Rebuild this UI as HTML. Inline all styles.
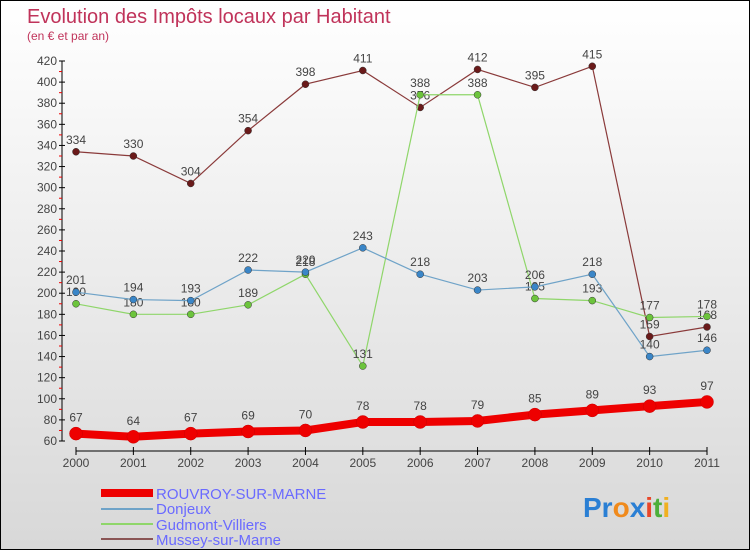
<!DOCTYPE html>
<html><head><meta charset="utf-8"><style>
body{margin:0}
#c{width:750px;height:550px;position:relative;background:linear-gradient(#fff,#d8d8d8);font-family:"Liberation Sans",sans-serif;box-sizing:border-box;border:1px solid #000;overflow:hidden}
</style></head><body>
<div id="c">
<svg id="s" width="750" height="550" style="position:absolute;left:0;top:0">
<text x="26" y="22" font-size="20" fill="#c0335a">Evolution des Impôts locaux par Habitant</text>
<text x="26" y="39" font-size="12" fill="#c0335a">(en € et par an)</text>
<g id="axes"></g><g id="series"></g>
<g>
<rect x="100" y="488" width="52" height="8" fill="#e00"/>
<text x="155" y="498" font-size="15" fill="#6a6aff">ROUVROY-SUR-MARNE</text>
<rect x="100" y="507" width="52" height="2" fill="#6fa3c8"/>
<text x="155" y="513" font-size="15" fill="#6a6aff">Donjeux</text>
<rect x="100" y="522" width="52" height="2" fill="#8fd66a"/>
<text x="155" y="529" font-size="15" fill="#6a6aff">Gudmont-Villiers</text>
<rect x="100" y="537" width="52" height="2" fill="#8a5555"/>
<text x="155" y="544" font-size="15" fill="#6a6aff">Mussey-sur-Marne</text>
</g>
<g font-size="28" font-weight="bold">
<text x="582" y="516"><tspan fill="#2a7fd4">Pr</tspan><tspan fill="#f08a1c">o</tspan><tspan fill="#2a7fd4">x</tspan><tspan fill="#e8472a">i</tspan><tspan fill="#4caf3a">t</tspan><tspan fill="#f0b020">i</tspan></text>
</g>
</svg>
</div>
<script>
const years=["2000","2001","2002","2003","2004","2005","2006","2007","2008","2009","2010","2011"];
const rouvroy=[67,64,67,69,70,78,78,79,85,89,93,97];
const donjeux=[201,194,193,222,220,243,218,203,206,218,140,146];
const gudmont=[190,180,180,189,218,131,388,388,195,193,177,178];
const mussey=[334,330,304,354,398,411,376,412,395,415,159,168];
const yTicks=[60,80,100,120,140,160,180,200,220,240,260,280,300,320,340,360,380,400,420];
const NS="http://www.w3.org/2000/svg";
const X=i=>75+i*(706-75)/11;
const Y=v=>440-(v-60)*380/360;
function mk(t,a,p){const e=document.createElementNS(NS,t);for(const k in a)e.setAttribute(k,a[k]);p.appendChild(e);return e;}
const ax=document.getElementById('axes');
let l=mk('line',{x1:61,y1:60,x2:61,y2:440,stroke:'#000'},ax);


l=mk('line',{x1:75,y1:450,x2:706,y2:450,stroke:'#000'},ax);


yTicks.forEach((v,i)=>{
 mk('line',{x1:58,y1:Y(v),x2:64,y2:Y(v),stroke:'#000'},ax);
 if(i<yTicks.length-1)mk('line',{x1:58,y1:Y(v+10),x2:61,y2:Y(v+10),stroke:'#e00'},ax);
 const t=mk('text',{x:56,y:Y(v)+4,'font-size':12,'text-anchor':'end',fill:'#444'},ax);t.textContent=v;
 
 
});
years.forEach((y,i)=>{
 mk('line',{x1:X(i),y1:446,x2:X(i),y2:454,stroke:'#000'},ax);
 const t=mk('text',{x:X(i),y:466,'font-size':12,'text-anchor':'middle',fill:'#444'},ax);t.textContent=y;
 
 
});
const sg=document.getElementById('series');
function draw(data,color,dot,w,r,name){
 const g=mk('g',{},sg);
 
 
 const p=mk('polyline',{points:data.map((v,i)=>X(i)+','+Y(v)).join(' '),fill:'none',stroke:color,'stroke-width':w},g);
 
 
 data.forEach((v,i)=>{
  const c=mk('circle',{cx:X(i),cy:Y(v),r:r,fill:dot,stroke:w>3?'#c00':'#333','stroke-width':0.5},g);
  
  
  const t=mk('text',{x:X(i),y:Y(v)-(w>3?12:8),'font-size':12,'text-anchor':'middle',fill:'#444'},g);t.textContent=v;
  
  
 });
}
draw(mussey,'#8a3a3a','#6a1a1a',1.2,3.5,'mussey');
draw(gudmont,'#8fd66a','#6cc43c',1.2,3.5,'gudmont');
draw(donjeux,'#6fa3c8','#3a86c8',1.2,3.5,'donjeux');
draw(rouvroy,'#ee0000','#ee0000',8,6.5,'rouvroy');
</script>
</body></html>
